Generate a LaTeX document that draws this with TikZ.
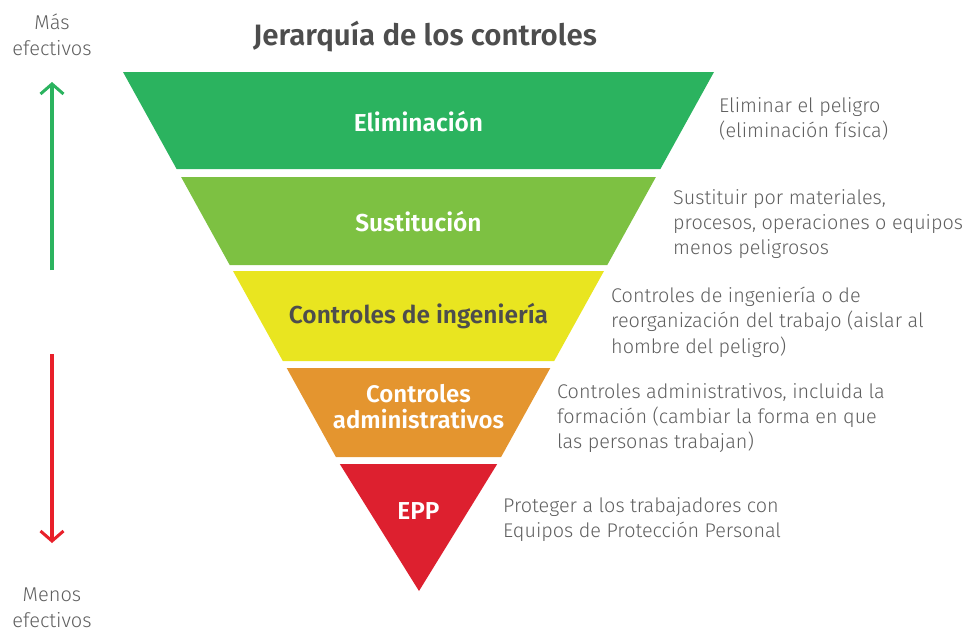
\documentclass[tikz,border=0pt]{standalone}
\usepackage{fontspec}
\setmainfont{Fira Sans}[BoldFont={Fira Sans SemiBold}]
\newfontfamily\lightfont{Fira Sans Light}
\usetikzlibrary{arrows.meta}
\definecolor{cgreen}{HTML}{2BB35F}
\definecolor{clgreen}{HTML}{7DC142}
\definecolor{cyellow}{HTML}{E9E520}
\definecolor{corange}{HTML}{E4952F}
\definecolor{cred}{HTML}{DD202F}
\definecolor{ctext}{HTML}{5F5F5F}
\definecolor{cdark}{HTML}{4D4D4D}
\definecolor{carrg}{HTML}{2BB35F}
\definecolor{carrr}{HTML}{E8202A}
\tikzset{
  band/.style={draw=none},
  bandlabel/.style={font=\fontsize{24.5}{26}\selectfont\bfseries, text=white, align=center, inner sep=0pt},
  desc/.style={font=\lightfont\fontsize{19.8}{25.3}\selectfont, text=ctext, align=left, anchor=north west, inner sep=0pt},
  side/.style={font=\lightfont\fontsize{20}{26}\selectfont, text=ctext, align=center, inner sep=0pt},
  bigarrow/.style={line width=3.5pt, -{Straight Barb[length=10pt,width=23pt,line width=3pt]}}
}
\begin{document}
\begin{tikzpicture}[x=1pt,y=-1pt]
\useasboundingbox (0,0) rectangle (970,632);
% bands
\fill[cgreen]  (123,72) -- (714,72) -- (660.4,169) -- (176.6,169) -- cycle;
\fill[clgreen] (181.1,177) -- (655.9,177) -- (607.3,265) -- (229.7,265) -- cycle;
\fill[cyellow] (233,271) -- (604,271) -- (554.2,361) -- (282.8,361) -- cycle;
\fill[corange] (286.7,368) -- (550.3,368) -- (501.1,457) -- (335.9,457) -- cycle;
\fill[cred]    (339.8,464) -- (497.2,464) -- (419,591) -- cycle;
% title
\node[font=\fontsize{29.5}{32}\selectfont\bfseries, text=cdark] (title) at (425,37) {Jerarquía de los controles};
% band labels
\node[bandlabel] (b1) at (418.5,122) {Eliminación};
\node[bandlabel] (b2) at (418.5,222) {Sustitución};
\node[bandlabel, text=cdark] (b3) at (418.5,316) {Controles de ingeniería};
\node[bandlabel, font=\fontsize{24}{26}\selectfont\bfseries] (b4) at (418.5,407) {Controles\\administrativos};
\node[bandlabel] (b5) at (418.5,511) {EPP};
% descriptions
\node[desc] (d1) at (719,97) {Eliminar el peligro\\(eliminación física)};
\node[desc] (d2) at (673,189) {Sustituir por materiales,\\procesos, operaciones o equipos\\menos peligrosos};
\node[desc] (d3) at (611,287) {Controles de ingeniería o de\\reorganización del trabajo (aislar al\\hombre del peligro)};
\node[desc] (d4) at (557,383) {Controles administrativos, incluida la\\formación (cambiar la forma en que\\las personas trabajan)};
\node[desc] (d5) at (503,497) {Proteger a los trabajadores con\\Equipos de Protección Personal};
% side labels
\node[side] (top) at (52,35) {Más\\efectivos};
\node[side] (bot) at (52,608) {Menos\\efectivos};
% arrows
\coordinate (g1) at (52,270);
\coordinate (g2) at (52,82);
\coordinate (r1) at (52,354);
\coordinate (r2) at (52,543);
\draw[bigarrow, carrg] (g1) -- (g2);
\draw[bigarrow, carrr] (r1) -- (r2);
\end{tikzpicture}
\end{document}
